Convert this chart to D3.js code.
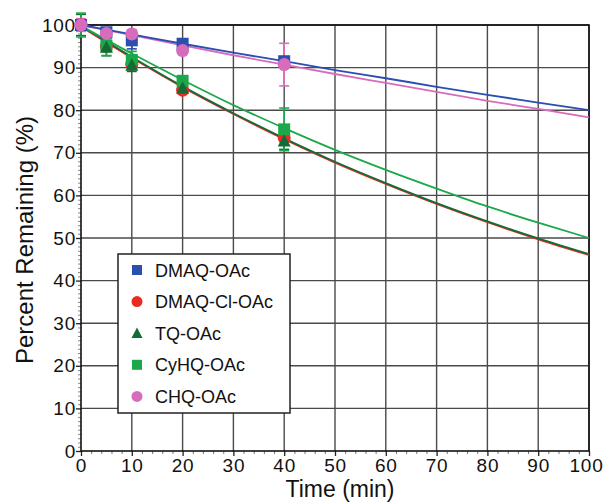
<html>
<head>
<style>
  body { margin: 0; background: #fff; }
  text { font-family: "Liberation Sans", Arial, sans-serif; fill: #111; }
</style>
<script src="https://d3js.org/d3.v7.min.js"></script>
</head>
<body>
<svg width="604" height="502"></svg>
<script>
// measured times (min)
var times = [0, 5, 10, 20, 40];

// measured percent remaining, per compound
var dmaq    = [100, 98.3, 96.4, 95.6, 91.5];
var dmaqCl  = [100, 95.0, 90.8, 84.7, 73.5];
var tq      = [100, 94.8, 90.6, 85.2, 72.8];
var cyhq    = [100, 95.2, 91.8, 86.9, 75.5];
var chq     = [100, 98.0, 97.9, 94.0, 90.7];

// error bar half-widths
var dmaqErr   = [1.2, 0.8, 2.0, 0.8, 1.0];
var dmaqClErr = [1.0, 0.8, 0.8, 0.8, 0.8];
var tqErr     = [2.5, 2.0, 1.5, 1.0, 2.0];
var cyhqErr   = [2.8, 2.4, 2.0, 1.0, 5.0];
var chqErr    = [1.5, 0.8, 1.0, 0.8, 5.0];

// fitted curves
var fitTimes   = [0, 10, 20, 30, 40, 50, 60, 70, 80, 90, 100];
var dmaqFit    = [100, 97.8, 95.6, 93.5, 91.5, 89.4, 87.5, 85.5, 83.6, 81.8, 80.0];
var dmaqClFit  = [99.6, 92.3, 85.4, 79.1, 73.2, 67.7, 62.7, 58.0, 53.7, 49.7, 46.0];
var tqFit      = [99.8, 92.5, 85.6, 79.3, 73.4, 67.9, 62.9, 58.2, 53.9, 49.9, 46.2];
var cyhqFit    = [99.8, 93.3, 87.1, 81.2, 75.8, 70.7, 66.0, 61.6, 57.4, 53.6, 50.0];
var chqFit     = [100, 97.6, 95.2, 92.9, 90.7, 88.5, 86.4, 84.3, 82.2, 80.3, 78.3];

var names = ["DMAQ-OAc", "DMAQ-Cl-OAc", "TQ-OAc", "CyHQ-OAc", "CHQ-OAc"];
var xTicks = [0, 10, 20, 30, 40, 50, 60, 70, 80, 90, 100];
var yTicks = [0, 10, 20, 30, 40, 50, 60, 70, 80, 90, 100];

var series = [
  { name: names[0], vals: dmaq,   err: dmaqErr,   fit: dmaqFit,   color: "#2a4fae", shape: "square" },
  { name: names[1], vals: dmaqCl, err: dmaqClErr, fit: dmaqClFit, color: "#ec2a22", shape: "circle" },
  { name: names[2], vals: tq,     err: tqErr,     fit: tqFit,     color: "#136b36", shape: "triangle" },
  { name: names[3], vals: cyhq,   err: cyhqErr,   fit: cyhqFit,   color: "#1ba84a", shape: "square" },
  { name: names[4], vals: chq,    err: chqErr,    fit: chqFit,    color: "#d86cbc", shape: "circle" }
];

var svg = d3.select("svg");
var pLeft = 81, pTop = 25, pRight = 589, pBottom = 451;

var x = d3.scaleLinear().domain([0, 100]).range([pLeft, pRight]);
var y = d3.scaleLinear().domain([0, 100]).range([pBottom, pTop]);

svg.append("rect").attr("width", 604).attr("height", 502).attr("fill", "#fff");

// grid
svg.append("g").selectAll("line").data(xTicks.slice(1)).enter().append("line")
   .attr("x1", d => x(d)).attr("x2", d => x(d)).attr("y1", pTop).attr("y2", pBottom)
   .attr("stroke", "#4a4a4a").attr("stroke-width", 1.4);
svg.append("g").selectAll("line").data(yTicks.slice(1)).enter().append("line")
   .attr("y1", d => y(d)).attr("y2", d => y(d)).attr("x1", pLeft).attr("x2", pRight)
   .attr("stroke", "#4a4a4a").attr("stroke-width", 1.4);

// axes
var xAxis = svg.append("g").attr("transform", "translate(0," + pBottom + ")")
   .call(d3.axisBottom(x).tickValues(xTicks).tickSize(5).tickPadding(3));
var yAxis = svg.append("g").attr("transform", "translate(" + pLeft + ",0)")
   .call(d3.axisLeft(y).tickValues(yTicks).tickSize(5).tickPadding(0));
[xAxis, yAxis].forEach(function(a) {
  a.select(".domain").remove();
  a.selectAll("line").attr("stroke", "#222").attr("stroke-width", 1.3);
  a.selectAll("text").style("font-size", "19px").attr("fill", "#111")
   .style("letter-spacing", "0.8px")
   .style("font-family", "Liberation Sans, Arial, sans-serif");
});
// keep the last x label inside the picture
xAxis.selectAll("text").filter(d => d === 100).attr("dx", "-3");

// minor ticks
svg.append("g").attr("transform", "translate(0," + pBottom + ")")
   .call(d3.axisBottom(x).tickValues(d3.range(0, 101, 2).filter(d => d % 10)).tickSize(3).tickFormat(""))
   .call(g => g.select(".domain").remove())
   .selectAll("line").attr("stroke", "#777");
svg.append("g").attr("transform", "translate(" + pLeft + ",0)")
   .call(d3.axisLeft(y).tickValues(d3.range(0, 101, 1).filter(d => d % 10)).tickSize(3).tickFormat(""))
   .call(g => g.select(".domain").remove())
   .selectAll("line").attr("stroke", "#888");

// frame
svg.append("rect").attr("x", pLeft).attr("y", pTop).attr("width", pRight - pLeft).attr("height", pBottom - pTop)
   .attr("fill", "none").attr("stroke", "#111").attr("stroke-width", 1.6);

// fit lines
var line = d3.line().x((d, i) => x(fitTimes[i])).y(d => y(d)).curve(d3.curveMonotoneX);
var lineOrder = [1, 2, 3, 4, 0];
lineOrder.forEach(function(k) {
  var s = series[k];
  svg.append("path").datum(s.fit).attr("d", line)
     .attr("fill", "none").attr("stroke", s.color).attr("stroke-width", 1.8);
});

// error bars
lineOrder.forEach(function(k) {
  var s = series[k];
  var g = svg.append("g").attr("stroke", s.color).attr("stroke-width", 1.6);
  times.forEach(function(t, i) {
    var cx = x(t), lo = y(s.vals[i] - s.err[i]), hi = y(s.vals[i] + s.err[i]);
    g.append("line").attr("x1", cx).attr("x2", cx).attr("y1", lo).attr("y2", hi);
    g.append("line").attr("x1", cx - 5).attr("x2", cx + 5).attr("y1", lo).attr("y2", lo);
    g.append("line").attr("x1", cx - 5).attr("x2", cx + 5).attr("y1", hi).attr("y2", hi);
  });
});

function marker(g, shape, cx, cy, color, size) {
  if (shape === "square") {
    g.append("rect").attr("x", cx - size / 2).attr("y", cy - size / 2)
     .attr("width", size).attr("height", size).attr("fill", color);
  } else if (shape === "circle") {
    g.append("circle").attr("cx", cx).attr("cy", cy).attr("r", size / 2 + 0.5).attr("fill", color);
  } else {
    var h = size * 0.95;
    g.append("path").attr("d", "M" + cx + "," + (cy - h / 2 - 1) + "L" + (cx + size / 2 + 0.5) + "," + (cy + h / 2) +
      "L" + (cx - size / 2 - 0.5) + "," + (cy + h / 2) + "Z").attr("fill", color);
  }
}

// points
var pointOrder = [1, 3, 2, 0, 4];
pointOrder.forEach(function(k) {
  var s = series[k];
  var g = svg.append("g");
  times.forEach(function(t, i) { marker(g, s.shape, x(t), y(s.vals[i]), s.color, 12); });
});

// legend
var lg = svg.append("g");
lg.append("rect").attr("x", 118).attr("y", 254).attr("width", 172).attr("height", 159)
  .attr("fill", "#fff").attr("stroke", "#222").attr("stroke-width", 1.5);
series.forEach(function(s, i) {
  var cy = 270 + i * 31.6;
  marker(lg, s.shape, 137, cy, s.color, 10);
  lg.append("text").attr("x", 155).attr("y", cy + 6.5).style("font-size", "18px").text(s.name);
});

// axis titles
svg.append("text").attr("x", 340).attr("y", 497).attr("text-anchor", "middle")
   .style("font-size", "23px").text("Time (min)");
svg.append("text").attr("transform", "translate(33,240) rotate(-90)")
   .attr("text-anchor", "middle").style("font-size", "24px").text("Percent Remaining (%)");
</script>
</body>
</html>
